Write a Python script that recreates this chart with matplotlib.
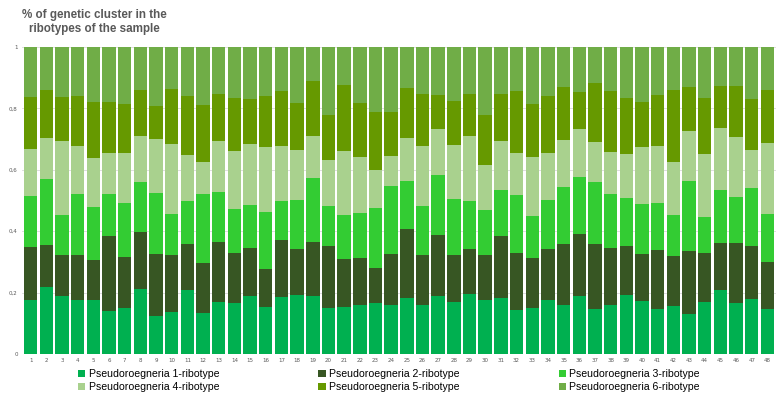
import matplotlib.pyplot as plt
import numpy as np

samples = [str(i) for i in range(1, 49)]
labels = [f"Pseudoroegneria {i}-ribotype" for i in range(1, 7)]
colors = ["#00b050", "#375623", "#33cc33", "#a9d18e", "#669900", "#70ad47"]

ribotype_1 = [0.176, 0.217, 0.189, 0.176, 0.176, 0.140, 0.149, 0.211, 0.124, 0.137, 0.209, 0.135,
              0.168, 0.166, 0.188, 0.153, 0.186, 0.191, 0.188, 0.149, 0.153, 0.161, 0.165, 0.158,
              0.183, 0.159, 0.189, 0.170, 0.197, 0.176, 0.182, 0.143, 0.150, 0.177, 0.159, 0.189,
              0.146, 0.159, 0.192, 0.173, 0.146, 0.157, 0.130, 0.170, 0.208, 0.165, 0.178, 0.146]
ribotype_2 = [0.172, 0.138, 0.134, 0.147, 0.129, 0.243, 0.166, 0.185, 0.203, 0.187, 0.150, 0.162,
              0.196, 0.163, 0.157, 0.123, 0.186, 0.150, 0.178, 0.202, 0.156, 0.151, 0.115, 0.169,
              0.225, 0.163, 0.199, 0.152, 0.145, 0.146, 0.203, 0.187, 0.162, 0.164, 0.198, 0.203,
              0.213, 0.187, 0.160, 0.152, 0.192, 0.163, 0.206, 0.159, 0.155, 0.198, 0.174, 0.155]
ribotype_3 = [0.167, 0.216, 0.131, 0.199, 0.175, 0.139, 0.176, 0.165, 0.198, 0.133, 0.140, 0.225,
              0.163, 0.143, 0.140, 0.188, 0.127, 0.161, 0.208, 0.132, 0.145, 0.147, 0.194, 0.219,
              0.156, 0.160, 0.194, 0.182, 0.157, 0.148, 0.150, 0.187, 0.139, 0.161, 0.186, 0.184,
              0.201, 0.176, 0.156, 0.162, 0.153, 0.134, 0.228, 0.116, 0.172, 0.150, 0.189, 0.156]
ribotype_4 = [0.152, 0.131, 0.239, 0.154, 0.158, 0.133, 0.163, 0.150, 0.175, 0.228, 0.149, 0.102,
              0.168, 0.189, 0.199, 0.211, 0.179, 0.163, 0.135, 0.150, 0.207, 0.184, 0.126, 0.100,
              0.139, 0.195, 0.150, 0.178, 0.210, 0.147, 0.160, 0.138, 0.192, 0.153, 0.155, 0.157,
              0.131, 0.137, 0.145, 0.186, 0.185, 0.173, 0.162, 0.205, 0.201, 0.194, 0.124, 0.231]
ribotype_5 = [0.170, 0.158, 0.145, 0.166, 0.184, 0.167, 0.160, 0.150, 0.109, 0.179, 0.193, 0.186,
              0.153, 0.173, 0.145, 0.167, 0.180, 0.151, 0.179, 0.145, 0.214, 0.175, 0.189, 0.143,
              0.164, 0.171, 0.113, 0.142, 0.139, 0.161, 0.152, 0.203, 0.171, 0.187, 0.172, 0.121,
              0.192, 0.199, 0.182, 0.147, 0.169, 0.234, 0.144, 0.184, 0.137, 0.166, 0.167, 0.173]
ribotype_6 = [0.163, 0.140, 0.162, 0.158, 0.178, 0.178, 0.186, 0.139, 0.191, 0.136, 0.159, 0.190,
              0.152, 0.166, 0.171, 0.158, 0.142, 0.184, 0.112, 0.222, 0.125, 0.182, 0.211, 0.211,
              0.133, 0.152, 0.155, 0.176, 0.152, 0.222, 0.153, 0.142, 0.186, 0.158, 0.130, 0.146,
              0.117, 0.142, 0.165, 0.180, 0.155, 0.139, 0.130, 0.166, 0.127, 0.127, 0.168, 0.139]

series = [ribotype_1, ribotype_2, ribotype_3, ribotype_4, ribotype_5, ribotype_6]

fig = plt.figure(figsize=(7.8, 4.0), dpi=100)
ax = fig.add_axes([22 / 780, 1 - 354 / 400, 754 / 780, 307 / 400])

x = np.arange(len(samples))
bottom = np.zeros(len(samples))
handles = []
for vals, lab, col in zip(series, labels, colors):
    h = ax.bar(x, vals, width=0.86, bottom=bottom, color=col, label=lab, zorder=2)
    handles.append(h)
    bottom += np.array(vals)

ax.set_xlim(-0.55, len(samples) - 0.45)
ax.set_ylim(0, 1)
ax.set_yticks([0, 0.2, 0.4, 0.6, 0.8, 1.0])
ax.set_yticklabels(["0", "0,2", "0,4", "0,6", "0,8", "1"])
ax.set_xticks(x)
ax.set_xticklabels(samples)
ax.tick_params(axis="both", labelsize=4, colors="#595959", length=0, pad=3)
ax.grid(axis="y", color="#d9d9d9", linewidth=0.6, zorder=0)
for s in ax.spines.values():
    s.set_visible(False)

font = ["Liberation Sans", "DejaVu Sans"]

fig.text(94 / 780, 1 - 22 / 400, "% of genetic cluster in the\nribotypes of the sample",
         ha="center", va="center", fontsize=8.4, fontweight="bold", color="#595959",
         linespacing=1.3, family=font)

# легенда построчно: 1,2,3 / 4,5,6
order = [0, 3, 1, 4, 2, 5]
fig.legend([handles[i] for i in order], [labels[i] for i in order],
           loc="upper left", bbox_to_anchor=(78 / 780, 1 - 369 / 400), ncol=3, frameon=False,
           prop={"family": font, "size": 7.6}, handlelength=0.7, handleheight=0.7,
           handletextpad=0.3, columnspacing=9.4, labelspacing=0.3, borderpad=0,
           borderaxespad=0)

fig.savefig("out.png", dpi=100)
